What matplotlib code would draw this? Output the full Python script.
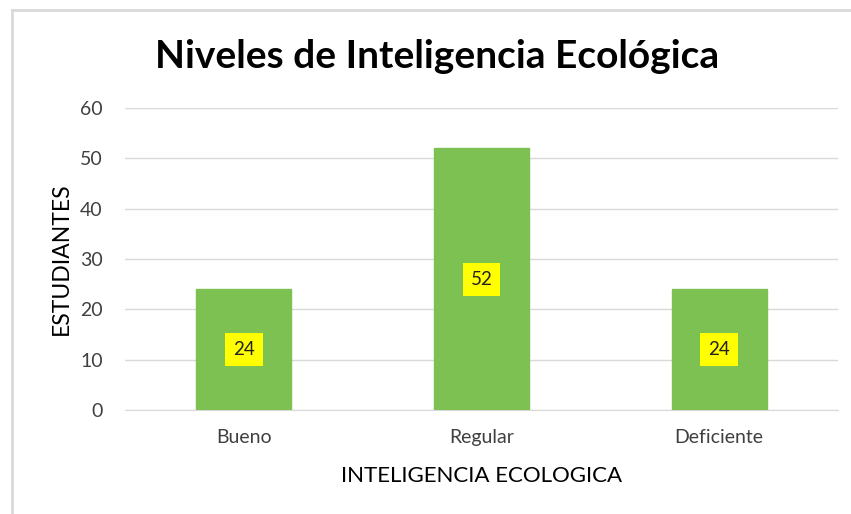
import matplotlib

matplotlib.use("Agg")
import matplotlib.pyplot as plt
from matplotlib.lines import Line2D

categories = ["Bueno", "Regular", "Deficiente"]
estudiantes = [24, 52, 24]
y_ticks = [0, 10, 20, 30, 40, 50, 60]

plt.rcParams["font.family"] = ["Lato", "DejaVu Sans"]

fig = plt.figure(figsize=(8.51, 5.14), dpi=100)
ax = fig.add_axes([125 / 851, 1 - 410 / 514, 713 / 851, 302 / 514])

x = range(len(categories))
ax.bar(x, estudiantes, width=0.4, color="#7DC152", edgecolor="#7DC152", zorder=3)
for xi, value in zip(x, estudiantes):
    ax.text(xi, value / 2, str(value), ha="center", va="center", fontsize=13.5, color="#222222",
            zorder=4, bbox=dict(boxstyle="square,pad=0.42", facecolor="#FFFF00", edgecolor="none"))

ax.set_xlim(-0.5, len(categories) - 0.5)
ax.set_ylim(0, 60)
ax.set_yticks(y_ticks)
ax.set_xticks(list(x), categories)
ax.grid(axis="y", color="#D9D9D9", linewidth=1, zorder=0)
for side in ("top", "right", "left"):
    ax.spines[side].set_visible(False)
ax.spines["bottom"].set_color("#D9D9D9")
ax.tick_params(length=0, labelsize=14, labelcolor="#404040")
ax.tick_params(axis="y", pad=16)
ax.tick_params(axis="x", pad=14)

ax.set_xlabel("INTELIGENCIA ECOLOGICA", fontsize=16, color="#000000", labelpad=14)
ax.set_ylabel("ESTUDIANTES", fontsize=16.5, color="#000000", labelpad=6)
fig.text(437 / 851, 1 - 56 / 514, "Niveles de Inteligencia Ecológica", ha="center", va="center",
         fontsize=28, fontweight="bold")

left, top = 12 / 851, 1 - 10 / 514
fig.lines.append(Line2D([left, left], [0, top], transform=fig.transFigure, color="#D9D9D9", linewidth=2))
fig.lines.append(Line2D([left, 1], [top, top], transform=fig.transFigure, color="#D9D9D9", linewidth=2))

fig.savefig("out.png", dpi=100)
